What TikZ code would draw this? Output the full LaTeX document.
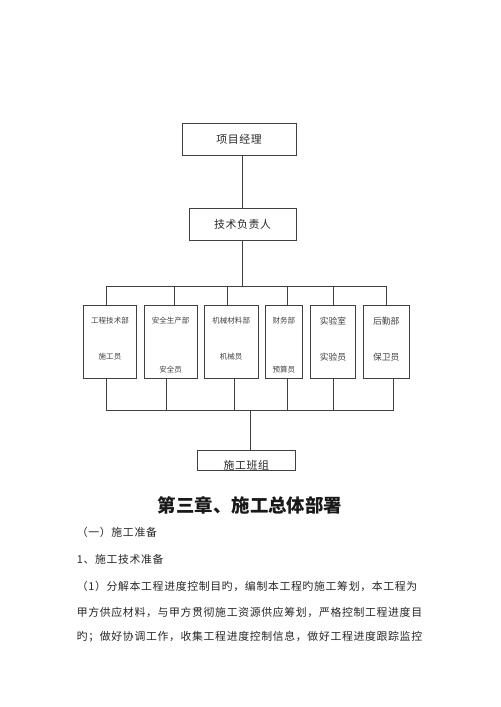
\documentclass[tikz,border=0pt]{standalone}
\usepackage{fontspec}
\newfontfamily\cjk[LetterSpace=6]{Noto Sans CJK SC}
\newfontfamily\cjkplain{Noto Sans CJK SC}
\usetikzlibrary{positioning}

\begin{document}
\begin{tikzpicture}[
	x=0.42mm, y=-0.42mm,
	L/.style = {draw=black!75, line width=0.7pt},% connectors
	X/.style = {rectangle, draw=black!75, line width=0.7pt,
		inner sep=0pt, outer sep=0pt},
	T/.style = {font=\cjk\fontsize{13}{13}\selectfont,
		inner sep=0pt, text=black!85},
	]
	\useasboundingbox (0,0) rectangle (500,707);
	\node (PM) [X, T, minimum width=47.9mm, minimum height=13.4mm] at (239,139) {项目经理};
	\node (TL) [X, T, minimum width=44.9mm, minimum height=13.4mm] at (242.5,224) {技术负责人};
	\draw[L] (TL.north) -- (TL.north |- PM.south);
	\coordinate (TB) at (242.5,286.3);
	\coordinate (BB) at (250,410.7);
	\draw[L] (TL.south) -- (TB);
	\foreach \n/\x/\w/\up/\dn/\dy/\fs/\st/\sb in {
		1/110/22.4/工程技术部/施工员/356.7/9/-1.4/-1.4,
		2/170.7/22.4/安全生产部/安全员/370/9/1.5/-1.7,
		3/231.2/22.6/机械材料部/机械员/356.7/9/-1.6/1.5,
		4/283.8/15.8/财务部/预算员/370/9/1.6/1.6,
		5/333/19.1/实验室/实验员/356.7/10.5/0/0,
		6/386.2/19.2/后勤部/保卫员/356.7/10.5/0/3}% dept boxes
	{
		\node (D\n) [X, minimum width=\w mm, minimum height=30.5mm] at (\x,342) {};
		\node (D\n-up) [inner sep=0pt, text=black!75,
			font=\cjkplain\fontsize{\fs}{\fs}\selectfont] at (\x,321) {\up};
		\node (D\n-dn) [inner sep=0pt, text=black!75,
			font=\cjkplain\fontsize{\fs}{\fs}\selectfont] at (\x,\dy) {\dn};
		\draw[L] ([xshift=\st mm]D\n.north) |- (TB);
		\draw[L] ([xshift=\sb mm]D\n.south) |- (BB);
	}
	\node (SG) [X, minimum width=41.5mm, minimum height=8.4mm,
		path picture={\node[T] at ([yshift=-2.4mm]path picture bounding box.center) {施工班组};}]
		at (246.3,460) {};
	\draw[L] (BB) -- (BB |- SG.north);
	\node (H) [inner sep=0pt, text=black!90,
		font=\cjkplain\bfseries\fontsize{22}{22}\selectfont] at (250,505) {第三章、施工总体部署};
	\node (P1) [T, anchor=west] at (76.7,532.7) {（一）施工准备};
	\node (P2) [T, anchor=west] at (76.7,559.3) {1、施工技术准备};
	\node (P3) [T, anchor=west] at (76.7,586) {（1）分解本工程进度控制目旳，编制本工程旳施工筹划，本工程为};
	\node (P4) [T, anchor=west] at (76.7,612.7) {甲方供应材料，与甲方贯彻施工资源供应筹划，严格控制工程进度目};
	\node (P5) [T, anchor=west] at (76.7,636.7) {旳；做好协调工作，收集工程进度控制信息，做好工程进度跟踪监控};
\end{tikzpicture}
\end{document}
